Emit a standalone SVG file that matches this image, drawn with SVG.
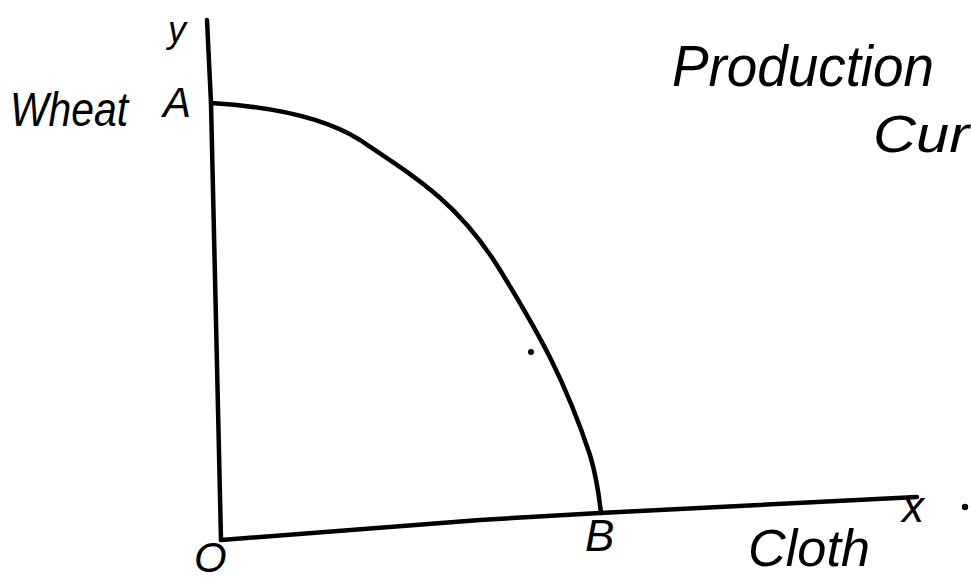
<svg xmlns="http://www.w3.org/2000/svg" width="971" height="580" viewBox="0 0 971 580">
<style>
.ln{fill:none;stroke:#000;stroke-width:4.5;stroke-linecap:round;stroke-linejoin:round}
.t{font-family:"Liberation Sans",Arial,sans-serif;font-style:italic;fill:#000}
</style>
<rect width="971" height="580" fill="#fff"/>
<g id="connectors">
<path class="ln" d="M207,20 L211,103 L221,540"/>
<path class="ln" d="M221,540 L480,520 L600,513 L917,497"/>
<path class="ln" d="M211,103 C260,106 320,115 360,140 C420,180 460,205 500,270 C540,335 565,380 590,455 C596,475 599,495 601,513"/>
</g>
<g id="dots">
<circle cx="531" cy="352" r="3" fill="#000"/>
<circle cx="965" cy="507" r="3.2" fill="#000"/>
</g>
<g id="labels">
<text class="t" x="168" y="42" font-size="36">y</text>
<text class="t" x="10" y="126" font-size="48" textLength="118" lengthAdjust="spacingAndGlyphs">Wheat</text>
<text class="t" x="163" y="117" font-size="42">A</text>
<text class="t" x="672" y="86" font-size="58" textLength="262" lengthAdjust="spacingAndGlyphs">Production</text>
<text class="t" x="873" y="152" font-size="52" textLength="96" lengthAdjust="spacingAndGlyphs">Cur</text>
<text class="t" x="194" y="572" font-size="42">O</text>
<text class="t" x="585" y="551" font-size="44">B</text>
<text class="t" x="748" y="566" font-size="52" textLength="122" lengthAdjust="spacingAndGlyphs">Cloth</text>
<text class="t" x="902" y="522" font-size="44">x</text>
</g>
</svg>
